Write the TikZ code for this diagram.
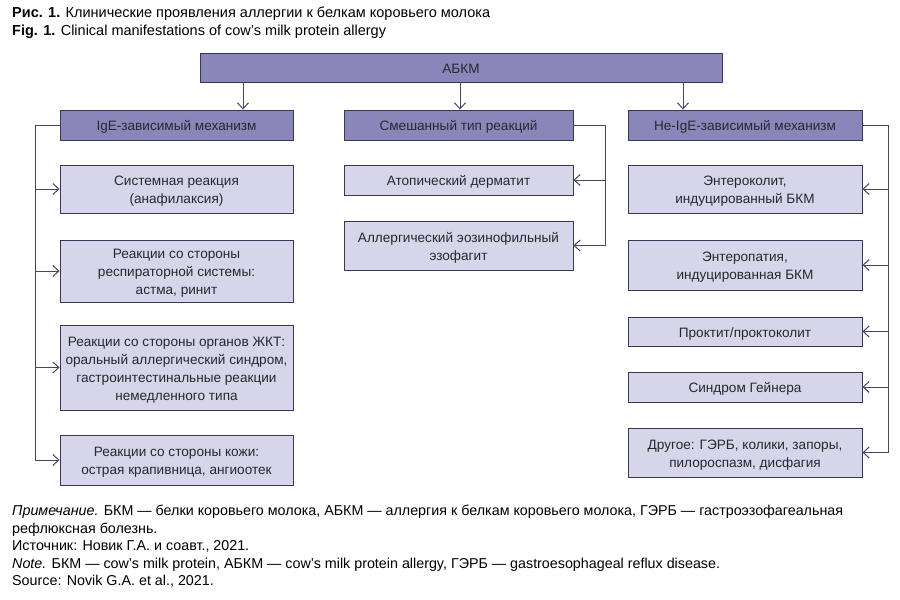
\documentclass[tikz,border=0pt]{standalone}
\usepackage{fontspec}
\setmainfont{Liberation Sans}
\usetikzlibrary{arrows.meta}
\definecolor{hdr}{RGB}{139,134,186}
\definecolor{bodyc}{RGB}{214,213,233}
\definecolor{edgec}{RGB}{58,54,92}
\definecolor{linec}{RGB}{70,70,100}
\definecolor{txt}{RGB}{40,40,48}
\newcommand\bt[1]{\raisebox{0pt}[\dimexpr\height+4pt\relax][\depth]{\begin{tabular}{@{}c@{}}#1\end{tabular}}}
\begin{document}
\begin{tikzpicture}[x=1pt,y=-1pt,
  box/.style={draw=edgec, line width=0.9pt, inner sep=0pt,
    font=\fontsize{13.6}{18}\selectfont, text=txt},
  hbox/.style={box, fill=hdr},
  lbox/.style={box, fill=bodyc},
  conn/.style={draw=linec, line width=1pt},
  arr/.style={conn, -{Straight Barb[length=6pt,width=11pt]}}]
\useasboundingbox[fill=white] (0,0) rectangle (900,600);

% title
\node[anchor=base west, inner sep=0pt, font=\fontsize{14.5}{17}\selectfont] (t1) at (12,17) {\textbf{Рис. 1.} Клинические проявления аллергии к белкам коровьего молока};
\node[anchor=base west, inner sep=0pt, font=\fontsize{14.5}{17}\selectfont] (t2) at (12,35) {\textbf{Fig. 1.} Clinical manifestations of cow’s milk protein allergy};

% top
\node[hbox, minimum width=522, minimum height=29] (abkm) at (461,67.5) {\bt{АБКМ}};

% headers
\node[hbox, minimum width=233, minimum height=30] (ige) at (176.5,125) {\bt{IgE-зависимый механизм}};
\node[hbox, minimum width=229, minimum height=30] (mix) at (458.5,125) {\bt{Смешанный тип реакций}};
\node[hbox, minimum width=234, minimum height=30] (nige) at (745,125) {\bt{Не-IgE-зависимый механизм}};

% left column
\node[lbox, minimum width=233, minimum height=48] (sys) at (176.5,189) {\bt{Системная реакция\\(анафилаксия)}};
\node[lbox, minimum width=233, minimum height=62] (resp) at (176.5,271) {\bt{Реакции со стороны\\респираторной системы:\\астма, ринит}};
\node[lbox, minimum width=233, minimum height=85] (gi) at (176.5,367.5) {\bt{Реакции со стороны органов ЖКТ:\\оральный аллергический синдром,\\гастроинтестинальные реакции\\немедленного типа}};
\node[lbox, minimum width=233, minimum height=50] (skin) at (176.5,460) {\bt{Реакции со стороны кожи:\\острая крапивница, ангиоотек}};

% middle column
\node[lbox, minimum width=229, minimum height=30] (atop) at (458.5,180) {\bt{Атопический дерматит}};
\node[lbox, minimum width=229, minimum height=49] (eso) at (458.5,245.5) {\bt{Аллергический эозинофильный\\эзофагит}};

% right column
\node[lbox, minimum width=234, minimum height=48] (entc) at (745,189) {\bt{Энтероколит,\\индуцированный БКМ}};
\node[lbox, minimum width=234, minimum height=50] (entp) at (745,265) {\bt{Энтеропатия,\\индуцированная БКМ}};
\node[lbox, minimum width=234, minimum height=29] (proc) at (745,331.5) {\bt{Проктит/проктоколит}};
\node[lbox, minimum width=234, minimum height=30] (gein) at (745,387) {\bt{Синдром Гейнера}};
\node[lbox, minimum width=234, minimum height=49] (other) at (745,452.5) {\bt{Другое: ГЭРБ, колики, запоры,\\пилороспазм, дисфагия}};

% top arrows
\draw[arr] ([xshift=66.5]ige.north |- abkm.south) -- ([xshift=66.5]ige.north);
\draw[arr] ([xshift=1.5]mix.north |- abkm.south) -- ([xshift=1.5]mix.north);
\draw[arr] ([xshift=-62]nige.north |- abkm.south) -- ([xshift=-62]nige.north);

% buses
\coordinate (lb) at (35,0);
\coordinate (mb) at (605,0);
\coordinate (rb) at (888,0);
\draw[conn] (ige.west) -| (lb |- skin.west);
\foreach \n in {sys,resp,gi,skin} \draw[arr] (lb |- \n.west) -- (\n.west);
\draw[conn] (mix.east) -| (mb |- eso.east);
\foreach \n in {atop,eso} \draw[arr] (mb |- \n.east) -- (\n.east);
\draw[conn] (nige.east) -| (rb |- other.east);
\foreach \n in {entc,entp,proc,gein,other} \draw[arr] (rb |- \n.east) -- (\n.east);

% footer
\node[anchor=north west, inner sep=0pt, align=left, font=\fontsize{14.3}{17.5}\selectfont] (foot) at (12,505)
{\textit{Примечание.} БКМ — белки коровьего молока, АБКМ — аллергия к белкам коровьего молока, ГЭРБ — гастроэзофагеальная\\
рефлюксная болезнь.\\
Источник: Новик Г.А. и соавт., 2021.\\
\textit{Note.} БКМ — cow’s milk protein, АБКМ — cow’s milk protein allergy, ГЭРБ — gastroesophageal reflux disease.\\
Source: Novik G.A. et al., 2021.};
\end{tikzpicture}
\end{document}
